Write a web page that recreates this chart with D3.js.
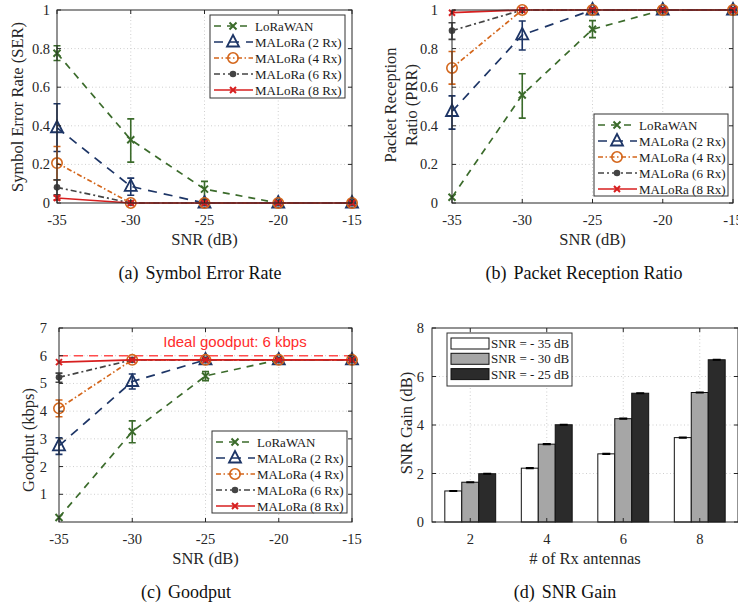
<!DOCTYPE html>
<html>
<head>
<meta charset="utf-8">
<script src="https://cdn.jsdelivr.net/npm/d3@7"></script>
<style>
  body { margin: 0; background: #fff; }
  svg { display: block; }
  text { font-family: "Liberation Serif", "Tinos", "DejaVu Serif", serif; }
  text.sans { font-family: "Liberation Sans", "Arimo", sans-serif; }
</style>
</head>
<body>
<svg id="chart" width="738" height="609"></svg>
<script>
// ---- data ----
const snr = [-35, -30, -25, -20, -15];
const seriesNames = ["LoRaWAN", "MALoRa (2 Rx)", "MALoRa (4 Rx)", "MALoRa (6 Rx)", "MALoRa (8 Rx)"];

// (a) symbol error rate, mean + [low, high]
const serLoRaWAN = [0.776, 0.328, 0.072, 0, 0];
const serLoRaWANErr = [[0.738, 0.815], [0.212, 0.436], [0.017, 0.112], null, null];
const ser2Rx = [0.39, 0.086, 0, 0, 0];
const ser2RxErr = [[0.267, 0.514], [0.04, 0.129], null, null, null];
const ser4Rx = [0.207, 0, 0, 0, 0];
const ser4RxErr = [[0.12, 0.293], null, null, null, null];
const ser6Rx = [0.081, 0, 0, 0, 0];
const ser6RxErr = [[0.043, 0.12], null, null, null, null];
const ser8Rx = [0.026, 0, 0, 0, 0];
const ser8RxErr = [[0.016, 0.036], null, null, null, null];

// (b) packet reception ratio
const prrLoRaWAN = [0.03, 0.56, 0.9, 1, 1];
const prrLoRaWANErr = [null, [0.44, 0.67], [0.857, 0.945], null, null];
const prr2Rx = [0.474, 0.871, 1, 1, 1];
const prr2RxErr = [[0.383, 0.555], [0.793, 0.943], null, null, null];
const prr4Rx = [0.70, 1, 1, 1, 1];
const prr4RxErr = [[0.616, 0.785], null, null, null, null];
const prr6Rx = [0.893, 1, 1, 1, 1];
const prr6RxErr = [[0.848, 0.934], null, null, null, null];
const prr8Rx = [0.986, 1, 1, 1, 1];
const prr8RxErr = [null, null, null, null, null];

// (c) goodput, kbps
const gpLoRaWAN = [0.16, 3.26, 5.27, 5.85, 5.85];
const gpLoRaWANErr = [null, [2.86, 3.65], [5.1, 5.43], null, null];
const gp2Rx = [2.75, 5.07, 5.85, 5.85, 5.85];
const gp2RxErr = [[2.44, 3.04], [4.8, 5.34], null, null, null];
const gp4Rx = [4.1, 5.85, 5.85, 5.85, 5.85];
const gp4RxErr = [[3.8, 4.4], null, null, null, null];
const gp6Rx = [5.22, 5.85, 5.85, 5.85, 5.85];
const gp6RxErr = [[5.04, 5.37], null, null, null, null];
const gp8Rx = [5.77, 5.85, 5.85, 5.85, 5.85];
const gp8RxErr = [null, null, null, null, null];
const idealGoodput = 6;

// (d) SNR gain bars
const antennas = [2, 4, 6, 8];
const barSeries = ["SNR = - 35 dB", "SNR = - 30 dB", "SNR = - 25 dB"];
const gain35 = [1.28, 2.22, 2.81, 3.48];
const gain30 = [1.64, 3.21, 4.26, 5.34];
const gain25 = [1.99, 4.01, 5.31, 6.69];
const gainErr = [0.02, 0.02, 0.02, 0.02];

const snrTicks = [-35, -30, -25, -20, -15];
const rateTicks = [0, 0.2, 0.4, 0.6, 0.8, 1];
const gpTicks = [1, 2, 3, 4, 5, 6, 7];
const gainTicks = [0, 2, 4, 6, 8];

// ---- styles ----
const styles = [
  { color: "#3b6b2b", dash: "7,6", marker: "star" },
  { color: "#1d3566", dash: "9,7", marker: "tri" },
  { color: "#d4661b", dash: "5,2.5,1.5,2.5", marker: "circle" },
  { color: "#444444", dash: "6,3,2,3", marker: "dot" },
  { color: "#d71f1f", dash: null, marker: "x" }
];
const barFills = ["#ffffff", "#a6a6a6", "#2b2b2b"];
const axisColor = "#262626";

const svg = d3.select("#chart");

function drawMarker(g, type, color, x, y) {
  if (type === "star" || type === "x") {
    const s = type === "star" ? 3.5 : 3;
    g.append("path")
      .attr("d", `M${x - s},${y - s}L${x + s},${y + s}M${x - s},${y + s}L${x + s},${y - s}`)
      .attr("stroke", color).attr("stroke-width", 2).attr("fill", "none");
  } else if (type === "tri") {
    g.append("path")
      .attr("d", `M${x},${y - 7}L${x + 6},${y + 4.5}L${x - 6},${y + 4.5}Z`)
      .attr("stroke", color).attr("stroke-width", 1.8).attr("fill", "none");
  } else if (type === "circle") {
    g.append("circle").attr("cx", x).attr("cy", y).attr("r", 5.2)
      .attr("stroke", color).attr("stroke-width", 1.6).attr("fill", "none");
  } else if (type === "dot") {
    g.append("circle").attr("cx", x).attr("cy", y).attr("r", 3.3).attr("fill", color);
  }
}

function frame(g, x, y, xTicks, yTicks) {
  const [x0, x1] = x.range();
  const [y0, y1] = y.range();
  // dotted grid
  const grid = g.append("g").attr("stroke", "#cfcfcf").attr("stroke-dasharray", "1,2.5").attr("stroke-width", 1);
  xTicks.forEach(t => { const px = x(t); if (px > x0 + 1 && px < x1 - 1) grid.append("line").attr("x1", px).attr("x2", px).attr("y1", y0).attr("y2", y1); });
  yTicks.forEach(t => { const py = y(t); if (py < y0 - 1 && py > y1 + 1) grid.append("line").attr("x1", x0).attr("x2", x1).attr("y1", py).attr("y2", py); });
}

function axesBox(g, x, y, xTicks, yTicks, opt) {
  const [x0, x1] = x.range();
  const [y0, y1] = y.range();
  const ax = g.append("g").attr("stroke", axisColor).attr("stroke-width", 1);
  ax.append("rect").attr("x", x0).attr("y", y1).attr("width", x1 - x0).attr("height", y0 - y1).attr("fill", "none");
  xTicks.forEach(t => {
    ax.append("line").attr("x1", x(t)).attr("x2", x(t)).attr("y1", y0).attr("y2", y0 - 4);
    ax.append("line").attr("x1", x(t)).attr("x2", x(t)).attr("y1", y1).attr("y2", y1 + 4);
  });
  yTicks.forEach(t => {
    ax.append("line").attr("x1", x0).attr("x2", x0 + 4).attr("y1", y(t)).attr("y2", y(t));
    ax.append("line").attr("x1", x1).attr("x2", x1 - 4).attr("y1", y(t)).attr("y2", y(t));
  });
  const lab = g.append("g").attr("fill", axisColor).attr("font-size", 14.5);
  xTicks.forEach(t => lab.append("text").attr("x", x(t)).attr("y", y0 + 22).attr("text-anchor", "middle").text(opt.xFmt(t)));
  yTicks.forEach(t => lab.append("text").attr("x", x0 - opt.yGap).attr("y", y(t) + 5).attr("text-anchor", "end").text(opt.yFmt(t)));
  // axis titles
  g.append("text").attr("x", (x0 + x1) / 2).attr("y", y0 + 42).attr("text-anchor", "middle")
    .attr("font-size", 16.5).attr("fill", axisColor).text(opt.xTitle);
  opt.yTitle.forEach((line, i) => {
    g.append("text").attr("transform", `translate(${opt.yTitleX[i]},${opt.yTitleY}) rotate(-90)`)
      .attr("text-anchor", "middle").attr("font-size", 16.5).attr("fill", axisColor).text(line);
  });
  // caption
  const cap = g.append("text").attr("x", opt.capX).attr("y", y0 + 76).attr("text-anchor", "middle")
    .attr("font-size", 18).attr("fill", "#111");
  cap.append("tspan").text(opt.capTag);
  cap.append("tspan").attr("dx", 7).text(opt.capText);
}

function linePanel(opt) {
  const g = svg.append("g");
  const x = d3.scaleLinear().domain([-35, -15]).range(opt.xr);
  const y = d3.scaleLinear().domain(opt.yd).range(opt.yr);
  frame(g, x, y, snrTicks, opt.yTicks);
  if (opt.extra) opt.extra(g, x, y);

  opt.series.forEach((s, i) => {
    const st = styles[i];
    const pts = snr.map((v, j) => [x(v), y(s.vals[j])]);
    g.append("path").attr("d", d3.line()(pts)).attr("fill", "none")
      .attr("stroke", st.color).attr("stroke-width", 1.7)
      .attr("stroke-dasharray", st.dash);
    s.err.forEach((e, j) => {
      if (!e) return;
      const px = x(snr[j]);
      g.append("path")
        .attr("d", `M${px},${y(e[0])}V${y(e[1])}M${px - 3.5},${y(e[0])}H${px + 3.5}M${px - 3.5},${y(e[1])}H${px + 3.5}`)
        .attr("stroke", st.color).attr("stroke-width", 1.6).attr("fill", "none");
    });
    pts.forEach(p => drawMarker(g, st.marker, st.color, p[0], p[1]));
  });

  axesBox(g, x, y, snrTicks, opt.yTicks, opt);

  // legend
  const L = opt.legend;
  const lg = g.append("g");
  lg.append("rect").attr("x", L.x).attr("y", L.y).attr("width", L.w).attr("height", L.h)
    .attr("fill", "#fff").attr("stroke", "#333").attr("stroke-width", 1);
  seriesNames.forEach((name, i) => {
    const st = styles[i];
    const cy = L.y + 11 + i * 16;
    lg.append("line").attr("x1", L.x + 4).attr("x2", L.x + 43).attr("y1", cy).attr("y2", cy)
      .attr("stroke", st.color).attr("stroke-width", 1.7).attr("stroke-dasharray", st.dash);
    drawMarker(lg, st.marker, st.color, L.x + 23, cy);
    lg.append("text").attr("x", L.x + 45).attr("y", cy + 4.5).attr("font-size", 13)
      .attr("fill", "#1a1a1a").text(name);
  });
}

const fmtRate = d => d === 0 || d === 1 ? String(d) : d.toFixed(1);

// (a)
linePanel({
  xr: [57, 352], yd: [0, 1], yr: [203, 10], yTicks: rateTicks,
  xFmt: d => String(d), yFmt: fmtRate, yGap: 7,
  xTitle: "SNR (dB)", yTitle: ["Symbol Error Rate (SER)"], yTitleX: [23], yTitleY: 107,
  capX: 200, capTag: "(a)", capText: "Symbol Error Rate",
  legend: { x: 210, y: 15, w: 135, h: 83 },
  series: [
    { vals: serLoRaWAN, err: serLoRaWANErr }, { vals: ser2Rx, err: ser2RxErr },
    { vals: ser4Rx, err: ser4RxErr }, { vals: ser6Rx, err: ser6RxErr }, { vals: ser8Rx, err: ser8RxErr }
  ]
});

// (b)
linePanel({
  xr: [452, 733], yd: [0, 1], yr: [203, 10], yTicks: rateTicks,
  xFmt: d => String(d), yFmt: fmtRate, yGap: 14,
  xTitle: "SNR (dB)", yTitle: ["Packet Reception", "Ratio (PRR)"], yTitleX: [396, 417], yTitleY: 105,
  capX: 584, capTag: "(b)", capText: "Packet Reception Ratio",
  legend: { x: 594, y: 114, w: 134, h: 82 },
  series: [
    { vals: prrLoRaWAN, err: prrLoRaWANErr }, { vals: prr2Rx, err: prr2RxErr },
    { vals: prr4Rx, err: prr4RxErr }, { vals: prr6Rx, err: prr6RxErr }, { vals: prr8Rx, err: prr8RxErr }
  ]
});

// (c)
linePanel({
  xr: [59, 352], yd: [0, 7], yr: [522, 328], yTicks: gpTicks,
  xFmt: d => String(d), yFmt: d => String(d), yGap: 12,
  xTitle: "SNR (dB)", yTitle: ["Goodput (kbps)"], yTitleX: [34], yTitleY: 440,
  capX: 186, capTag: "(c)", capText: "Goodput",
  legend: { x: 212, y: 431, w: 135, h: 82 },
  extra: (g, x, y) => {
    g.append("line").attr("x1", x.range()[0]).attr("x2", x.range()[1])
      .attr("y1", y(idealGoodput)).attr("y2", y(idealGoodput))
      .attr("stroke", "#ff4d4d").attr("stroke-width", 1.5).attr("stroke-dasharray", "9,6");
    g.append("text").attr("class", "sans").attr("x", 235).attr("y", 347).attr("text-anchor", "middle")
      .attr("font-size", 15).attr("fill", "#ff2b2b").text("Ideal goodput: 6 kbps");
  },
  series: [
    { vals: gpLoRaWAN, err: gpLoRaWANErr }, { vals: gp2Rx, err: gp2RxErr },
    { vals: gp4Rx, err: gp4RxErr }, { vals: gp6Rx, err: gp6RxErr }, { vals: gp8Rx, err: gp8RxErr }
  ]
});

// (d) bars
(function () {
  const g = svg.append("g");
  const x = d3.scaleLinear().domain([1, 9]).range([432, 738]);
  const y = d3.scaleLinear().domain([0, 8]).range([522, 328]);
  const opt = {
    xFmt: d => String(d), yFmt: d => String(d), yGap: 8,
    xTitle: "# of Rx antennas", yTitle: ["SNR Gain (dB)"], yTitleX: [412], yTitleY: 423,
    capX: 565, capTag: "(d)", capText: "SNR Gain"
  };
  frame(g, x, y, antennas, gainTicks);
  const half = (x(2) - x(1)) * 0.665;
  const sub = d3.scaleBand().domain(barSeries).range([-half, half]);
  const vals = [gain35, gain30, gain25];
  vals.forEach((arr, k) => {
    arr.forEach((v, j) => {
      const bx = x(antennas[j]) + sub(barSeries[k]);
      g.append("rect").attr("x", bx).attr("y", y(v)).attr("width", sub.bandwidth()).attr("height", y(0) - y(v))
        .attr("fill", barFills[k]).attr("stroke", "#111").attr("stroke-width", 1);
      const cx = bx + sub.bandwidth() / 2;
      g.append("path")
        .attr("d", `M${cx - 4},${y(v + gainErr[j])}H${cx + 4}M${cx},${y(v + gainErr[j])}V${y(v - gainErr[j])}M${cx - 4},${y(v - gainErr[j])}H${cx + 4}`)
        .attr("stroke", "#000").attr("stroke-width", 1.2);
    });
  });
  axesBox(g, x, y, antennas, gainTicks, opt);
  // legend
  const L = { x: 447, y: 333, w: 125, h: 53 };
  g.append("rect").attr("x", L.x).attr("y", L.y).attr("width", L.w).attr("height", L.h)
    .attr("fill", "#fff").attr("stroke", "#333");
  barSeries.forEach((name, k) => {
    const ry = L.y + 5 + k * 15.3;
    g.append("rect").attr("x", L.x + 4).attr("y", ry).attr("width", 38).attr("height", 11)
      .attr("fill", barFills[k]).attr("stroke", "#111");
    g.append("text").attr("x", L.x + 44).attr("y", ry + 10).attr("font-size", 13)
      .attr("fill", "#1a1a1a").text(name);
  });
})();
</script>
</body>
</html>
